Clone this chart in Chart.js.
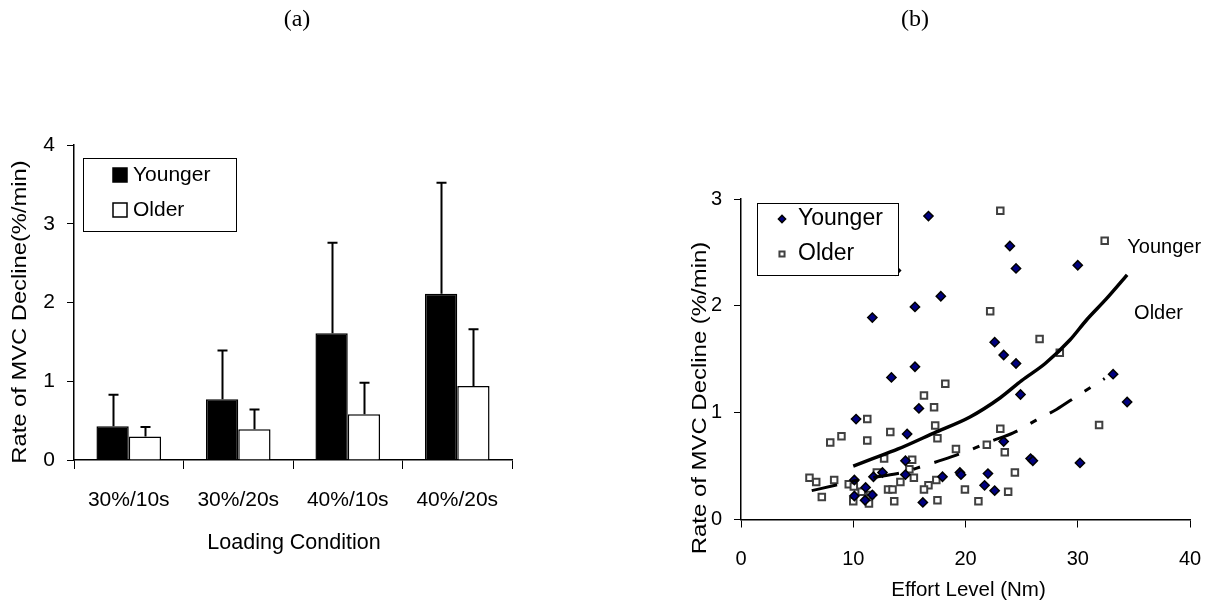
<!DOCTYPE html>
<html>
<head>
<meta charset="utf-8">
<script src="https://cdn.jsdelivr.net/npm/chart.js@4.4.1/dist/chart.umd.min.js"></script>
<style>
  html, body { margin: 0; padding: 0; background: #fff; }
  #wrap { position: relative; width: 1228px; height: 605px; overflow: hidden; background: #fff; }
  .panel { position: absolute; top: 0; width: 614px; height: 605px; }
  #pa { left: 0; }
  #pb { left: 614px; }
</style>
</head>
<body>
<div id="wrap">
  <div class="panel" id="pa"><canvas id="chartA"></canvas></div>
  <div class="panel" id="pb"><canvas id="chartB"></canvas></div>
</div>
<script>
// ---------- Panel (a): rate of MVC decline by loading condition ----------
const conditions  = ['30%/10s', '30%/20s', '40%/10s', '40%/20s'];
const youngerMean = [0.43, 0.77, 1.61, 2.11];
const youngerSD   = [0.40, 0.62, 1.15, 1.41];
const olderMean   = [0.30, 0.39, 0.58, 0.94];
const olderSD     = [0.12, 0.25, 0.40, 0.72];
const barTicks    = [0, 1, 2, 3, 4];

// ---------- Panel (b): rate of MVC decline vs effort level ----------
const youngerEffort = [16.7, 23.95, 24.5, 17.8, 15.5, 11.7, 22.6, 30.0, 10.25, 15.5, 13.4, 15.85, 14.8,
  23.4, 24.5, 24.9, 33.15, 34.4, 23.4, 25.8, 26.0, 30.2, 22.6, 21.7, 22.0, 19.5, 19.6, 17.95, 16.2,
  14.65, 14.65, 12.6, 11.8, 11.7, 11.1, 11.05, 10.1, 10.1, 13.8];
const youngerRate = [2.84, 2.56, 2.35, 2.09, 1.99, 1.89, 1.66, 2.38, 0.94, 1.43, 1.33, 1.04, 0.80,
  1.54, 1.46, 1.17, 1.36, 1.10, 0.73, 0.57, 0.55, 0.53, 0.27, 0.32, 0.43, 0.44, 0.42, 0.40, 0.16,
  0.55, 0.42, 0.44, 0.40, 0.23, 0.30, 0.18, 0.37, 0.22, 2.33];
const olderEffort = [23.1, 32.4, 22.2, 26.6, 28.4, 18.2, 16.3, 17.2, 11.25, 17.3, 13.3, 8.95, 17.5,
  11.25, 7.95, 23.1, 31.9, 21.9, 19.15, 23.5, 12.75, 15.25, 15.0, 12.1, 15.4, 14.2, 17.4, 16.7, 16.3,
  13.1, 13.5, 13.65, 17.5, 19.95, 21.15, 24.4, 23.8, 6.1, 6.7, 8.3, 7.2, 9.6, 10.05, 10.75, 10.0, 11.4, 11.5];
const olderRate = [2.89, 2.61, 1.95, 1.69, 1.56, 1.27, 1.16, 1.05, 0.94, 0.88, 0.82, 0.78, 0.76,
  0.74, 0.72, 0.85, 0.885, 0.70, 0.66, 0.63, 0.57, 0.56, 0.47, 0.44, 0.39, 0.35, 0.37, 0.32, 0.28,
  0.28, 0.28, 0.17, 0.18, 0.28, 0.17, 0.44, 0.26, 0.39, 0.35, 0.37, 0.21, 0.33, 0.31, 0.26, 0.17, 0.15, 0.23];
// trend curves through the two groups
const youngerTrendEffort = [10, 11.5, 14, 17.4, 20.4, 23.1, 25, 27.1, 29.3, 30.8, 32.5, 34.4];
const youngerTrendRate   = [0.50, 0.56, 0.66, 0.82, 0.96, 1.14, 1.30, 1.46, 1.68, 1.87, 2.06, 2.29];
const olderTrendEffort   = [6.3, 8.4, 10, 12.2, 14.4, 16.2, 18, 20.4, 22.2, 24.25, 26.3, 28.1, 30, 32.4];
const olderTrendRate     = [0.27, 0.32, 0.36, 0.40, 0.44, 0.50, 0.56, 0.65, 0.73, 0.81, 0.93, 1.03, 1.16, 1.32];
const effortTicks = [0, 10, 20, 30, 40];
const rateTicks   = [0, 1, 2, 3];

const FONT = "'Liberation Sans', Arial, sans-serif";
const SERIF = "'Liberation Serif', 'Times New Roman', serif";
Chart.defaults.font.family = FONT;
Chart.defaults.color = '#000';
Chart.defaults.animation = false;

const toPoints = (xs, ys) => xs.map((x, i) => ({ x: x, y: ys[i] }));

// draws one caption; "stretch" lengthens the glyphs along the writing direction
function text(ctx, str, x, y, font, align, rot, stretch) {
  ctx.save();
  ctx.font = font;
  ctx.fillStyle = '#000';
  ctx.textAlign = align || 'center';
  ctx.textBaseline = 'middle';
  ctx.translate(x, y);
  if (rot) ctx.rotate(rot);
  if (stretch) ctx.scale(stretch, 1);
  ctx.fillText(str, 0, 0);
  ctx.restore();
}

// ---------------- chart (a) ----------------
const errorBars = {
  id: 'errorBars',
  afterDatasetsDraw(chart) {
    const ctx = chart.ctx, ys = chart.scales.y;
    chart.data.datasets.forEach((ds, i) => {
      chart.getDatasetMeta(i).data.forEach((bar, j) => {
        const top = ys.getPixelForValue(ds.data[j] + ds.sd[j]);
        const x = Math.round(bar.x) + 0.5;
        ctx.save();
        ctx.strokeStyle = '#000';
        ctx.lineWidth = 2;
        ctx.beginPath();
        ctx.moveTo(x, bar.y);
        ctx.lineTo(x, top);
        ctx.moveTo(x - 5, top);
        ctx.lineTo(x + 5, top);
        ctx.stroke();
        ctx.restore();
      });
    });
  }
};

const decorA = {
  id: 'decorA',
  afterDraw(chart) {
    const { ctx, chartArea: a } = chart;
    const f = '21px ' + FONT;
    text(ctx, '(a)', 297, 20, '24px ' + SERIF);
    text(ctx, 'Rate of MVC Decline(%/min)', 20, 312, f, 'center', -Math.PI / 2, 1.13);
    text(ctx, 'Loading Condition', (a.left + a.right) / 2 + 1, 543, '21.5px ' + FONT);
    // legend box
    const bx = a.left + 9, by = a.top + 13, bw = 153, bh = 73;
    ctx.save();
    ctx.fillStyle = '#fff';
    ctx.fillRect(bx, by, bw, bh);
    ctx.strokeStyle = '#000';
    ctx.lineWidth = 1;
    ctx.strokeRect(bx + 0.5, by + 0.5, bw, bh);
    chart.data.datasets.forEach((ds, i) => {
      const cy = by + 17 + i * 35;
      ctx.fillStyle = ds.backgroundColor;
      ctx.fillRect(bx + 30, cy - 7, 14, 14);
      ctx.strokeStyle = '#000';
      ctx.lineWidth = 1.5;
      ctx.strokeRect(bx + 30, cy - 7, 14, 14);
      text(ctx, ds.label, bx + 50, cy, f, 'left');
    });
    ctx.restore();
  }
};

new Chart(document.getElementById('chartA'), {
  type: 'bar',
  data: {
    labels: conditions,
    datasets: [
      { label: 'Younger', data: youngerMean, sd: youngerSD, backgroundColor: '#000', borderColor: '#000', borderWidth: 1.5 },
      { label: 'Older', data: olderMean, sd: olderSD, backgroundColor: '#fff', borderColor: '#000', borderWidth: 1.5 }
    ]
  },
  options: {
    responsive: true,
    maintainAspectRatio: false,
    devicePixelRatio: 1,
    layout: { padding: { left: 0, top: 145, right: 102, bottom: 45 } },
    datasets: { bar: { categoryPercentage: 0.59, barPercentage: 1.0 } },
    plugins: { legend: { display: false }, tooltip: { enabled: false } },
    scales: {
      x: {
        grid: { drawOnChartArea: false, drawTicks: true, tickLength: 9, color: '#000', lineWidth: 1, offset: true },
        border: { color: '#000', width: 1.5 },
        ticks: { font: { size: 21 }, padding: 19, color: '#000' },
        afterFit: s => { s.height = 100; }
      },
      y: {
        min: 0, max: 4,
        afterBuildTicks: s => { s.ticks = barTicks.map(v => ({ value: v })); },
        grid: { drawOnChartArea: false, drawTicks: true, tickLength: 7, color: '#000', lineWidth: 1 },
        border: { color: '#000', width: 1.5 },
        ticks: { font: { size: 21 }, padding: 12, color: '#000' },
        afterFit: s => { s.width = 74; }
      }
    }
  },
  plugins: [errorBars, decorA]
});

// ---------------- chart (b) ----------------
const decorB = {
  id: 'decorB',
  afterDraw(chart) {
    const { ctx, chartArea: a, scales } = chart;
    const f = '20px ' + FONT;
    text(ctx, '(b)', 301, 20, '24px ' + SERIF);
    text(ctx, 'Rate of MVC Decline (%/min)', 86, 398, '21px ' + FONT, 'center', -Math.PI / 2, 1.14);
    text(ctx, 'Effort Level (Nm)', (a.left + a.right) / 2 + 3, 590, '20.5px ' + FONT);
    // curve labels
    const ds = chart.data.datasets;
    text(ctx, ds[2].label, scales.x.getPixelForValue(37.7), scales.y.getPixelForValue(2.55), f);
    text(ctx, ds[3].label, scales.x.getPixelForValue(37.2), scales.y.getPixelForValue(1.93), f);
    // legend box
    const bx = a.left + 16, by = a.top + 4, bw = 141, bh = 72;
    ctx.save();
    ctx.fillStyle = '#fff';
    ctx.fillRect(bx, by, bw, bh);
    ctx.strokeStyle = '#000';
    ctx.lineWidth = 1;
    ctx.strokeRect(bx + 0.5, by + 0.5, bw, bh);
    [ds[0], ds[1]].forEach((d, i) => {
      const cy = by + 16 + i * 35;
      ctx.fillStyle = d.backgroundColor;
      ctx.strokeStyle = d.borderColor;
      ctx.lineWidth = d.borderWidth;
      Chart.helpers.drawPoint(ctx, { pointStyle: d.pointStyle, radius: 3.6, rotation: 0, borderWidth: d.borderWidth }, bx + 25, cy);
      text(ctx, d.label, bx + 41, cy, '23px ' + FONT, 'left');
    });
    ctx.restore();
  }
};

new Chart(document.getElementById('chartB'), {
  type: 'scatter',
  data: {
    datasets: [
      { label: 'Younger', data: toPoints(youngerEffort, youngerRate), pointStyle: 'rectRot', pointRadius: 4.6,
        backgroundColor: '#000080', borderColor: '#000', borderWidth: 1.5, order: 2 },
      { label: 'Older', data: toPoints(olderEffort, olderRate), pointStyle: 'rect', pointRadius: 4.6,
        backgroundColor: '#fff', borderColor: '#404040', borderWidth: 2, order: 3 },
      { label: 'Younger', data: toPoints(youngerTrendEffort, youngerTrendRate), showLine: true, pointRadius: 0,
        borderColor: '#000', borderWidth: 3.5, cubicInterpolationMode: 'monotone', order: 1 },
      { label: 'Older', data: toPoints(olderTrendEffort, olderTrendRate), showLine: true, pointRadius: 0,
        borderColor: '#000', borderWidth: 3, borderDash: [26, 15, 7, 15], cubicInterpolationMode: 'monotone', order: 1 }
    ]
  },
  options: {
    responsive: true,
    maintainAspectRatio: false,
    devicePixelRatio: 1,
    layout: { padding: { left: 0, top: 199, right: 38, bottom: 15.5 } },
    plugins: { legend: { display: false }, tooltip: { enabled: false } },
    scales: {
      x: {
        type: 'linear', min: 0, max: 40,
        afterBuildTicks: s => { s.ticks = effortTicks.map(v => ({ value: v })); },
        grid: { drawOnChartArea: false, drawTicks: true, tickLength: 8, color: '#000', lineWidth: 1 },
        border: { color: '#000', width: 1.5 },
        ticks: { font: { size: 20 }, padding: 20, color: '#000' },
        afterFit: s => { s.height = 70; }
      },
      y: {
        type: 'linear', min: 0, max: 3,
        afterBuildTicks: s => { s.ticks = rateTicks.map(v => ({ value: v })); },
        grid: { drawOnChartArea: false, drawTicks: true, tickLength: 7, color: '#000', lineWidth: 1 },
        border: { color: '#000', width: 1.5 },
        ticks: { font: { size: 20 }, padding: 12, color: '#000' },
        afterFit: s => { s.width = 127; }
      }
    }
  },
  plugins: [decorB]
});
</script>
</body>
</html>
